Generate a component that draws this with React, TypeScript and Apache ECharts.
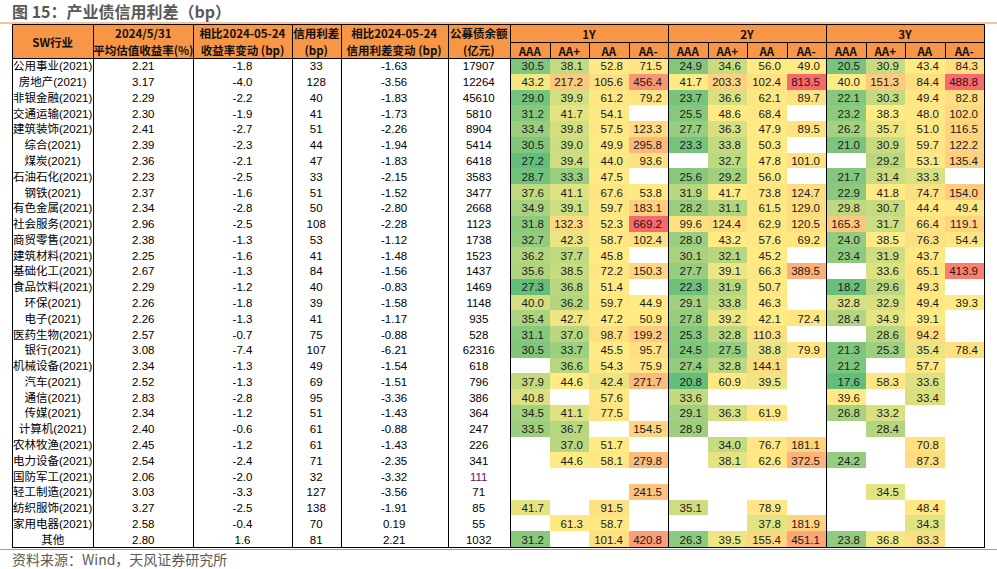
import React, { useEffect, useRef } from 'react';
import * as echarts from 'echarts';

// ---------------- DATA ----------------
const industries = ['公用事业(2021)', '房地产(2021)', '非银金融(2021)', '交通运输(2021)', '建筑装饰(2021)', '综合(2021)', '煤炭(2021)', '石油石化(2021)', '钢铁(2021)', '有色金属(2021)', '社会服务(2021)', '商贸零售(2021)', '建筑材料(2021)', '基础化工(2021)', '食品饮料(2021)', '环保(2021)', '电子(2021)', '医药生物(2021)', '银行(2021)', '机械设备(2021)', '汽车(2021)', '通信(2021)', '传媒(2021)', '计算机(2021)', '农林牧渔(2021)', '电力设备(2021)', '国防军工(2021)', '轻工制造(2021)', '纺织服饰(2021)', '家用电器(2021)', '其他'];
const avgYield = [2.21, 3.17, 2.29, 2.30, 2.41, 2.39, 2.36, 2.23, 2.37, 2.34, 2.96, 2.38, 2.25, 2.67, 2.29, 2.26, 2.26, 2.57, 3.08, 2.34, 2.52, 2.83, 2.34, 2.40, 2.45, 2.54, 2.06, 3.03, 3.27, 2.58, 2.80];
const yieldChange = [-1.8, -4.0, -2.2, -1.9, -2.7, -2.3, -2.1, -2.5, -1.6, -2.8, -2.5, -1.3, -1.6, -1.3, -1.2, -1.8, -1.3, -0.7, -7.4, -1.3, -1.3, -2.8, -1.2, -0.6, -1.2, -2.4, -2.0, -3.3, -2.5, -0.4, 1.6];
const creditSpread = [33, 128, 40, 41, 51, 44, 47, 33, 51, 50, 108, 53, 41, 84, 40, 39, 41, 75, 107, 49, 69, 95, 51, 61, 61, 71, 32, 127, 138, 70, 81];
const spreadChange = [-1.63, -3.56, -1.83, -1.73, -2.26, -1.94, -1.83, -2.15, -1.52, -2.80, -2.28, -1.12, -1.48, -1.56, -0.83, -1.58, -1.17, -0.88, -6.21, -1.54, -1.51, -3.36, -1.43, -0.88, -1.43, -2.35, -3.32, -3.56, -1.91, 0.19, 2.21];
const publicBalance = [17907, 12264, 45610, 5810, 8904, 5414, 6418, 3583, 3477, 2668, 1123, 1738, 1523, 1437, 1469, 1148, 935, 528, 62316, 618, 796, 386, 364, 247, 226, 341, 111, 71, 85, 55, 1032];

const tenors = ['1Y', '2Y', '3Y'];
const ratings = ['AAA', 'AA+', 'AA', 'AA-'];

const spread1Y: (number | null)[][] = [
  [30.5, 38.1, 52.8, 71.5], [43.2, 217.2, 105.6, 456.4], [29.0, 39.9, 61.2, 79.2], [31.2, 41.7, 54.1, null],
  [33.4, 39.8, 57.5, 123.3], [30.5, 39.0, 49.9, 295.8], [27.2, 39.4, 44.0, 93.6], [28.7, 33.3, 47.5, null],
  [37.6, 41.1, 67.6, 53.8], [34.9, 39.1, 59.7, 183.1], [31.8, 132.3, 52.3, 669.2], [32.7, 42.3, 58.7, 102.4],
  [36.2, 37.7, 45.8, null], [35.6, 38.5, 72.2, 150.3], [27.3, 36.8, 51.4, null], [40.0, 36.2, 59.7, 44.9],
  [35.4, 42.7, 47.2, 50.9], [31.1, 37.0, 98.7, 199.2], [30.5, 33.7, 45.5, 95.7], [null, 36.6, 54.3, 75.9],
  [37.9, 44.6, 42.4, 271.7], [40.8, null, 57.6, null], [34.5, 41.1, 77.5, null], [33.5, 36.7, null, 154.5],
  [null, 37.0, 51.7, null], [null, 44.6, 58.1, 279.8], [null, null, null, null], [null, null, null, 241.5],
  [41.7, null, 91.5, null], [null, 61.3, 58.7, null], [31.2, null, 101.4, 420.8],
];
const spread2Y: (number | null)[][] = [
  [24.9, 34.6, 56.0, 49.0], [41.7, 203.3, 102.4, 813.5], [23.7, 36.6, 62.1, 89.7], [25.5, 48.6, 68.4, null],
  [27.7, 36.3, 47.9, 89.5], [23.3, 33.8, 50.3, null], [null, 32.7, 47.8, 101.0], [25.6, 29.2, 56.0, null],
  [31.9, 41.7, 73.8, 124.7], [28.2, 31.1, 61.5, 129.0], [99.6, 124.4, 62.9, 120.5], [28.0, 43.2, 57.6, 69.2],
  [30.1, 32.1, 45.2, null], [27.7, 39.1, 66.3, 389.5], [22.3, 31.9, 50.7, null], [29.1, 33.8, 46.3, null],
  [27.8, 39.2, 42.1, 72.4], [25.3, 32.8, 110.3, null], [24.5, 27.5, 38.8, 79.9], [27.4, 32.8, 144.1, null],
  [20.8, 60.9, 39.5, null], [33.6, null, null, null], [29.1, 36.3, 61.9, null], [28.9, null, null, null],
  [null, 34.0, 76.7, 181.1], [null, 38.1, 62.6, 372.5], [null, null, null, null], [null, null, null, null],
  [35.1, null, 78.9, null], [null, null, 37.8, 181.9], [26.3, 39.5, 155.4, 451.1],
];
const spread3Y: (number | null)[][] = [
  [20.5, 30.9, 43.4, 84.3], [40.0, 151.3, 84.4, 488.8], [22.1, 30.3, 49.4, 82.8], [23.2, 38.3, 48.0, 102.0],
  [26.2, 35.7, 51.0, 116.5], [21.0, 30.9, 59.7, 122.2], [null, 29.2, 53.1, 135.4], [21.7, 31.4, 33.3, null],
  [22.9, 41.8, 74.7, 154.0], [29.8, 30.7, 44.4, 49.4], [165.3, 31.7, 66.4, 119.1], [24.0, 38.5, 76.3, 54.4],
  [23.4, 31.9, 43.7, null], [null, 33.6, 65.1, 413.9], [18.2, 29.6, 49.3, null], [32.8, 32.9, 49.4, 39.3],
  [28.4, 34.9, 39.1, null], [null, 28.6, 94.2, null], [21.3, 25.3, 35.4, 78.4], [21.2, null, 57.7, null],
  [17.6, 58.3, 33.6, null], [39.6, null, 33.4, null], [26.8, 33.2, null, null], [null, 28.4, null, null],
  [null, null, 70.8, null], [24.2, null, 87.3, null], [null, null, null, null], [null, 34.5, null, null],
  [null, null, 48.4, null], [null, null, 34.3, null], [23.8, 36.8, 83.3, null],
];

const leftHeaders = [
  ['SW行业'],
  ['2024/5/31', '平均估值收益率(%)'],
  ['相比2024-05-24', '收益率变动 (bp)'],
  ['信用利差', '(bp)'],
  ['相比2024-05-24', '信用利差变动 (bp)'],
  ['公募债余额', '(亿元)'],
];

const titleText = '图 15：产业债信用利差（bp）';
const sourceText = '资料来源：Wind，天风证券研究所';

// ---------------- LAYOUT / STYLE ----------------
const LEFT_WIDTHS = [81.3, 100, 98.4, 49, 106.8, 62.5];
const HEAT_W = 39.5;
const colStarts: number[] = [];
const colWidths: number[] = [];
let acc = 0;
LEFT_WIDTHS.forEach((w) => { colStarts.push(acc); colWidths.push(w); acc += w; });
const LEFT_TOTAL = acc;
for (let k = 0; k < 12; k++) { colStarts.push(LEFT_TOTAL + k * HEAT_W); colWidths.push(HEAT_W); }
const TABLE_W = LEFT_TOTAL + 12 * HEAT_W;
const HEADER_H = 34;
const HEADER_ROW1 = 18;

const GREEN = [99, 190, 123];
const YELLOW = [255, 235, 132];
const RED = [248, 105, 107];
const HEADER_FILL = '#F79646';
const ORANGE_LINE = '#F0883E';
const FONT_BODY = '"Liberation Sans", "Noto Sans CJK SC", sans-serif';
const FONT_HEAD = '"Noto Sans CJK SC", "Liberation Sans", sans-serif';

function lerp(a: number[], b: number[], t: number) {
  const c = a.map((v, i) => Math.round(v + (b[i] - v) * t));
  return `rgb(${c[0]},${c[1]},${c[2]})`;
}
function percentile(sorted: number[], p: number) {
  const idx = (sorted.length - 1) * p;
  const lo = Math.floor(idx);
  const hi = Math.ceil(idx);
  return sorted[lo] + (sorted[hi] - sorted[lo]) * (idx - lo);
}

type LeftCell = { c: number; r: number; text: string; color: string };
const leftCells: LeftCell[] = [];
industries.forEach((name, r) => {
  const texts = [
    name,
    avgYield[r].toFixed(2),
    yieldChange[r].toFixed(1),
    String(creditSpread[r]),
    spreadChange[r].toFixed(2),
    String(publicBalance[r]),
  ];
  texts.forEach((t, c) => {
    const special = c === 5 && name.startsWith('国防军工');
    leftCells.push({ c, r, text: t, color: special ? '#5E1460' : '#000000' });
  });
});

type HeatCell = { c: number; r: number; v: number; color: string };
const heatCells: HeatCell[] = [];
[spread1Y, spread2Y, spread3Y].forEach((block, ti) => {
  const vals: number[] = [];
  block.forEach((row) => row.forEach((v) => { if (v !== null) vals.push(v); }));
  vals.sort((a, b) => a - b);
  const mn = vals[0];
  const mx = vals[vals.length - 1];
  const md = percentile(vals, 0.5);
  block.forEach((row, r) => {
    row.forEach((v, k) => {
      if (v === null) return;
      const color = v <= md ? lerp(GREEN, YELLOW, (v - mn) / (md - mn)) : lerp(YELLOW, RED, (v - md) / (mx - md));
      heatCells.push({ c: 6 + ti * 4 + k, r, v, color });
    });
  });
});

type HeadCell = { x0: number; x1: number; y0: number; y1: number; text: string };
const headCells: HeadCell[] = [];
leftHeaders.forEach((lines, c) => {
  headCells.push({ x0: colStarts[c], x1: colStarts[c] + colWidths[c], y0: 0, y1: HEADER_H, text: lines.join('\n') });
});
tenors.forEach((t, ti) => {
  const x0 = LEFT_TOTAL + ti * 4 * HEAT_W;
  headCells.push({ x0, x1: x0 + 4 * HEAT_W, y0: 0, y1: HEADER_ROW1, text: t });
  ratings.forEach((rt, k) => {
    const sx = x0 + k * HEAT_W;
    headCells.push({ x0: sx, x1: sx + HEAT_W, y0: HEADER_ROW1, y1: HEADER_H, text: rt });
  });
});

const crisp = (v: number) => Math.round(v) + 0.5;

function buildOption(): any {
  const nRows = industries.length;
  return {
    animation: false,
    backgroundColor: '#ffffff',
    grid: [
      { left: 12, top: 58, width: TABLE_W, height: 489, containLabel: false },
      { left: 12, top: 24, width: TABLE_W, height: HEADER_H, containLabel: false },
    ],
    xAxis: [
      { type: 'value', gridIndex: 0, min: 0, max: TABLE_W, show: false },
      { type: 'value', gridIndex: 1, min: 0, max: TABLE_W, show: false },
    ],
    yAxis: [
      { type: 'category', gridIndex: 0, data: industries, inverse: true, show: false },
      { type: 'value', gridIndex: 1, min: 0, max: HEADER_H, inverse: true, show: false },
    ],
    graphic: [
      {
        type: 'text', x: 12, y: 11,
        style: { text: titleText, font: `bold 16px ${FONT_HEAD}`, fill: '#595959', verticalAlign: 'middle' },
      },
      { type: 'line', shape: { x1: 0, y1: 23, x2: 997, y2: 23 }, style: { stroke: ORANGE_LINE, lineWidth: 1.2 } },
      { type: 'line', shape: { x1: 0, y1: 549.5, x2: 997, y2: 549.5 }, style: { stroke: ORANGE_LINE, lineWidth: 1.2 } },
      {
        type: 'text', x: 12, y: 559,
        style: { text: sourceText, font: `14px ${FONT_HEAD}`, fill: '#595959', verticalAlign: 'middle' },
      },
    ],
    series: [
      // heatmap cells
      {
        type: 'custom',
        name: 'heat',
        xAxisIndex: 0,
        yAxisIndex: 0,
        data: heatCells.map((d) => [colStarts[d.c], d.r, d.v]),
        encode: { x: 0, y: 1 },
        renderItem: (params: any, api: any) => {
          const cell = heatCells[params.dataIndex];
          const a = api.coord([colStarts[cell.c], cell.r]);
          const b = api.coord([colStarts[cell.c] + colWidths[cell.c], cell.r]);
          const h = api.size([0, 1])[1];
          const x0 = Math.round(a[0]);
          const x1 = Math.round(b[0]);
          const y0 = Math.round(a[1] - h / 2);
          const y1 = Math.round(a[1] + h / 2);
          return {
            type: 'group',
            children: [
              { type: 'rect', shape: { x: x0, y: y0, width: x1 - x0, height: y1 - y0 }, style: { fill: cell.color } },
              {
                type: 'text',
                style: {
                  text: cell.v.toFixed(1), x: x1 - 6, y: a[1] + 0.5, align: 'right', verticalAlign: 'middle',
                  fill: '#1a1a1a', font: `11.5px ${FONT_BODY}`,
                },
              },
            ],
          };
        },
      },
      // left table text
      {
        type: 'custom',
        name: 'left',
        xAxisIndex: 0,
        yAxisIndex: 0,
        data: leftCells.map((d) => [colStarts[d.c], d.r]),
        encode: { x: 0, y: 1 },
        renderItem: (params: any, api: any) => {
          const cell = leftCells[params.dataIndex];
          const a = api.coord([colStarts[cell.c], cell.r]);
          const b = api.coord([colStarts[cell.c] + colWidths[cell.c], cell.r]);
          return {
            type: 'text',
            style: {
              text: cell.text, x: (a[0] + b[0]) / 2, y: a[1] + 0.5, align: 'center', verticalAlign: 'middle',
              fill: cell.color, font: `11.5px ${FONT_BODY}`,
            },
          };
        },
      },
      // body frame lines
      {
        type: 'custom',
        name: 'frame',
        xAxisIndex: 0,
        yAxisIndex: 0,
        data: [[0, 0]],
        encode: { x: 0, y: 1 },
        z: 5,
        renderItem: (_params: any, api: any) => {
          const h = api.size([0, 1])[1];
          const top = api.coord([0, 0])[1] - h / 2;
          const bottom = api.coord([0, nRows - 1])[1] + h / 2;
          const xs = [0, ...colStarts.slice(1, 7), LEFT_TOTAL + 4 * HEAT_W, LEFT_TOTAL + 8 * HEAT_W, TABLE_W];
          const children: any[] = xs.map((xv) => {
            const px = crisp(api.coord([xv, 0])[0]);
            return { type: 'line', shape: { x1: px, y1: top, x2: px, y2: bottom + 1 }, style: { stroke: '#000', lineWidth: 1 } };
          });
          const l = crisp(api.coord([0, 0])[0]);
          const r = crisp(api.coord([TABLE_W, 0])[0]);
          children.push({ type: 'line', shape: { x1: l, y1: crisp(bottom), x2: r, y2: crisp(bottom) }, style: { stroke: '#000', lineWidth: 1 } });
          return { type: 'group', children };
        },
      },
      // header cells
      {
        type: 'custom',
        name: 'header',
        xAxisIndex: 1,
        yAxisIndex: 1,
        data: headCells.map((d) => [d.x0, d.y0]),
        encode: { x: 0, y: 1 },
        renderItem: (params: any, api: any) => {
          const cell = headCells[params.dataIndex];
          const a = api.coord([cell.x0, cell.y0]);
          const b = api.coord([cell.x1, cell.y1]);
          const x0 = crisp(a[0]);
          const x1 = crisp(b[0]);
          const y0 = crisp(a[1]);
          const y1 = crisp(b[1]);
          return {
            type: 'group',
            children: [
              {
                type: 'rect', shape: { x: x0, y: y0, width: x1 - x0, height: y1 - y0 },
                style: { fill: HEADER_FILL, stroke: '#000', lineWidth: 1 },
              },
              {
                type: 'text',
                style: {
                  text: cell.text, x: (a[0] + b[0]) / 2, y: (a[1] + b[1]) / 2 + 0.5, align: 'center', verticalAlign: 'middle',
                  fill: '#111', font: `bold 11.5px ${FONT_HEAD}`, lineHeight: 17,
                },
              },
            ],
          };
        },
      },
    ],
  };
}

export default function App() {
  const ref = useRef<HTMLDivElement>(null);
  useEffect(() => {
    if (!ref.current) return;
    const chart = echarts.init(ref.current, null, { renderer: 'svg' });
    chart.setOption(buildOption());
    return () => chart.dispose();
  }, []);
  return <div ref={ref} style={{ position: 'absolute', left: 0, top: 0, width: 997, height: 569 }} />;
}
